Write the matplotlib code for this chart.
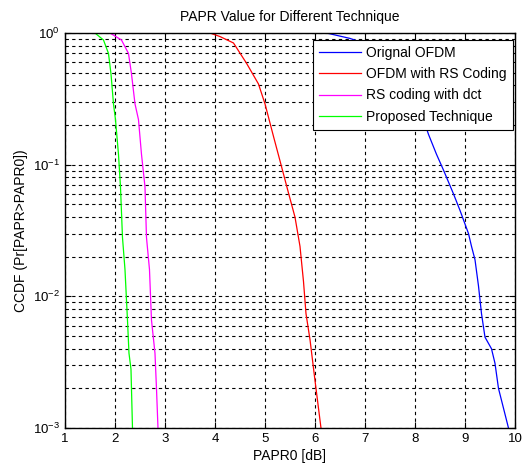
import matplotlib
matplotlib.use("Agg")
import matplotlib.pyplot as plt
from matplotlib.ticker import LogLocator, NullFormatter

plt.rcParams['font.family'] = ['Liberation Sans', 'DejaVu Sans']
plt.rcParams['mathtext.fontset'] = 'custom'
plt.rcParams['mathtext.rm'] = 'Liberation Sans'

# PAPR0 [dB] vs CCDF
x_orig = [5.37, 6.23, 6.7, 7.2, 7.6, 8.0, 8.27, 8.43, 8.57, 8.77, 8.9, 9.07, 9.13,
          9.2, 9.27, 9.33, 9.4, 9.53, 9.6, 9.67, 9.87]
y_orig = [1.0, 1.0, 0.91, 0.78, 0.58, 0.34, 0.17, 0.12, 0.091, 0.06, 0.045, 0.030,
          0.024, 0.019, 0.012, 0.0074, 0.0049, 0.004, 0.0031, 0.002, 0.001]

x_rs = [3.33, 3.9, 4.1, 4.37, 4.63, 4.87, 5.0, 5.17, 5.33, 5.47, 5.6, 5.7, 5.77,
        5.82, 5.9, 6.0, 6.12]
y_rs = [1.0, 1.0, 0.94, 0.84, 0.59, 0.41, 0.29, 0.164, 0.097, 0.061, 0.040, 0.024,
        0.013, 0.0074, 0.0047, 0.0023, 0.001]

x_dct = [1.5, 1.9, 2.13, 2.27, 2.33, 2.40, 2.47, 2.53, 2.6, 2.63, 2.69, 2.73, 2.8,
         2.83, 2.86]
y_dct = [1.0, 1.0, 0.885, 0.70, 0.49, 0.29, 0.22, 0.12, 0.068, 0.028, 0.016, 0.0066,
         0.0037, 0.002, 0.001]

x_prop = [1.23, 1.6, 1.77, 1.87, 1.92, 1.97, 2.01, 2.07, 2.11, 2.15, 2.2, 2.25,
          2.28, 2.32, 2.35]
y_prop = [1.0, 1.0, 0.885, 0.70, 0.49, 0.29, 0.22, 0.12, 0.068, 0.028, 0.016, 0.0066,
          0.0037, 0.0028, 0.001]

labels = ['Orignal OFDM', 'OFDM with RS Coding', 'RS coding with dct', 'Proposed Technique']
xticks = [1, 2, 3, 4, 5, 6, 7, 8, 9, 10]

fig = plt.figure(figsize=(5.27, 4.69), dpi=100)
ax = fig.add_axes([0.1233, 0.0874, 0.8539, 0.8422])

lw = 0.9
ax.semilogy(x_orig, y_orig, color='#0000ff', lw=lw, label=labels[0])
ax.semilogy(x_rs, y_rs, color='#ff0000', lw=lw, label=labels[1])
ax.semilogy(x_dct, y_dct, color='#ff00ff', lw=lw, label=labels[2])
ax.semilogy(x_prop, y_prop, color='#00ff00', lw=lw, label=labels[3])

ax.set_xlim(1, 10)
ax.set_ylim(1e-3, 1)
ax.set_xticks(xticks)
ax.set_xticklabels([str(t) for t in xticks])
ax.yaxis.set_minor_locator(LogLocator(base=10, subs=range(2, 10)))
ax.yaxis.set_minor_formatter(NullFormatter())

ax.grid(True, which='major', color='black', linestyle=(0, (3, 3)), lw=0.8)
ax.grid(True, which='minor', axis='y', color='black', linestyle=(0, (3, 3)), lw=0.8)
ax.tick_params(which='both', direction='in', top=True, right=True, labelsize=9.5,
               colors='black')
ax.tick_params(which='major', length=4)
ax.tick_params(which='minor', length=2)
for s in ax.spines.values():
    s.set_linewidth(1.0)

ax.set_title('PAPR Value for Different Technique', fontsize=10, pad=9)
ax.set_xlabel('PAPR0 [dB]', fontsize=10, labelpad=3)
ax.set_ylabel('CCDF (Pr[PAPR>PAPR0])', fontsize=10, labelpad=4)

leg = ax.legend(loc='upper right', bbox_to_anchor=(0.9956, 0.983), fontsize=10,
                fancybox=False, framealpha=1, edgecolor='black', handlelength=3.0,
                borderaxespad=0, labelspacing=0.52, borderpad=0.45, handletextpad=0.4)
leg.get_frame().set_linewidth(0.8)

fig.savefig('out.png', dpi=100)
